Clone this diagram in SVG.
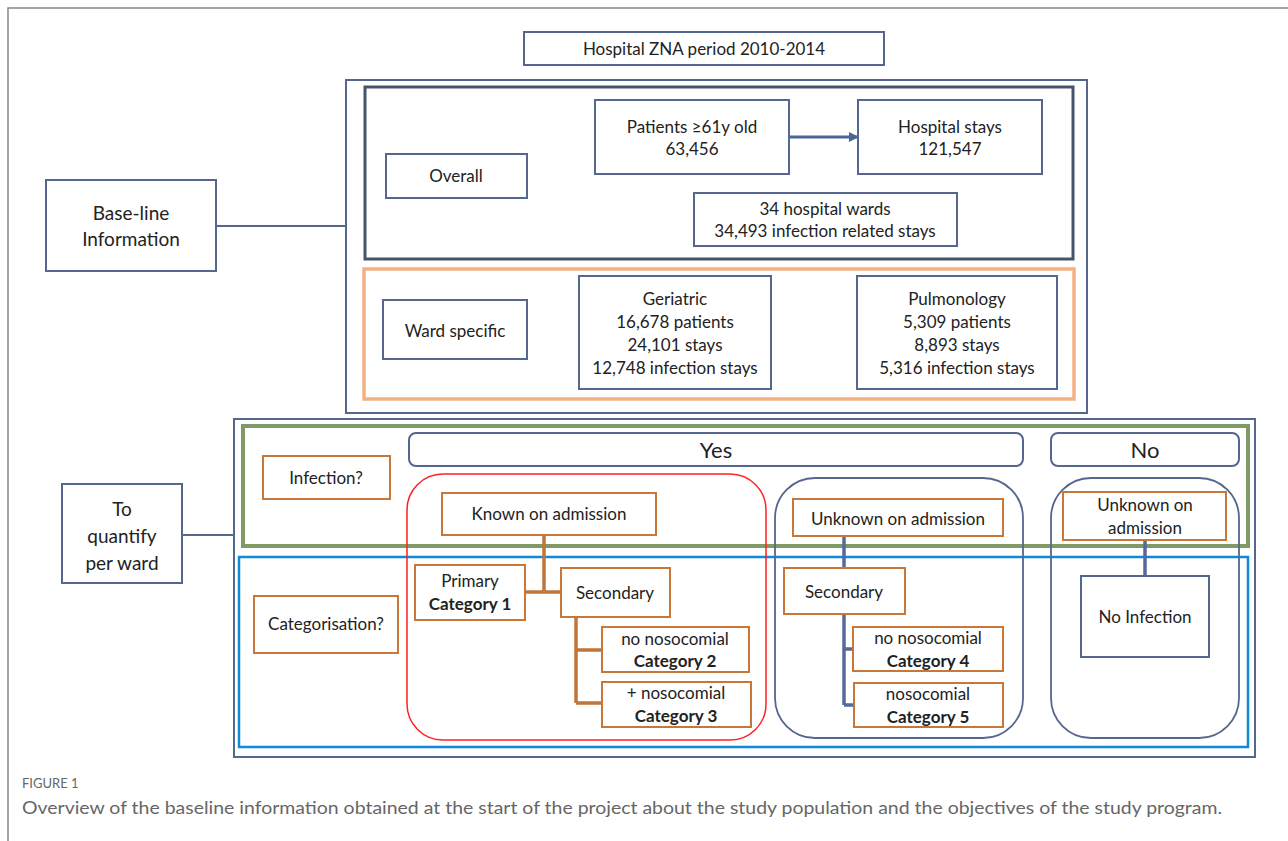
<svg xmlns="http://www.w3.org/2000/svg" width="1288" height="841" viewBox="0 0 1288 841">
<style>
text{font-family:Lato,"Open Sans","Liberation Sans",sans-serif;fill:#222;text-anchor:middle}
.t{font-size:17px}
.b{font-weight:bold}
.big{font-size:22px}
.nb{fill:#fff;stroke:#55668f;stroke-width:2}
.ob{fill:#fff;stroke:#c8763a;stroke-width:2}
.frame{fill:none}
.cb{stroke:#c0763a;stroke-width:3.5;fill:none}
.cg{stroke:#56699a;stroke-width:3.5;fill:none}
.cap{text-anchor:start;fill:#666}
</style>
<defs>
<marker id="ah" markerWidth="10" markerHeight="10" refX="8" refY="5" orient="auto" markerUnits="userSpaceOnUse"><path d="M0,0 L10,5 L0,10 z" fill="#4a6596"/></marker>
</defs>
<rect width="1288" height="841" fill="#fff"/>
<path d="M8,841 V8 H1288" fill="none" stroke="#888" stroke-width="1.5"/>

<g id="frames">
<rect x="346" y="80" width="741" height="333" class="frame" stroke="#55668f" stroke-width="2"/>
<rect x="365" y="87" width="708" height="172" class="frame" stroke="#44546a" stroke-width="3"/>
<rect x="364" y="269" width="710" height="130" class="frame" stroke="#f4b183" stroke-width="3.5"/>
<rect x="234" y="419" width="1021" height="338" class="frame" stroke="#55668f" stroke-width="2"/>
<rect x="243" y="426" width="1005" height="120" class="frame" stroke="#7f9a65" stroke-width="4"/>
<rect x="239" y="557" width="1009" height="190" class="frame" stroke="#0f8ad6" stroke-width="2.5"/>
<rect x="407" y="474" width="359" height="266" rx="36" class="frame" stroke="#ff2020" stroke-width="1.5"/>
<rect x="775" y="478" width="248" height="260" rx="40" class="frame" stroke="#55668f" stroke-width="1.8"/>
<rect x="1051" y="478" width="188" height="260" rx="40" class="frame" stroke="#55668f" stroke-width="1.8"/>
</g>

<g id="connectors">
<line x1="216" y1="226" x2="346" y2="226" stroke="#55668f" stroke-width="2"/>
<line x1="182" y1="535" x2="234" y2="535" stroke="#55668f" stroke-width="2"/>
<line x1="789" y1="137" x2="857" y2="137" stroke="#4a6596" stroke-width="3" marker-end="url(#ah)"/>
<path class="cb" d="M544,535 V592 M525,592 H561 M576,617 V703 M576,650 H602 M576,703 H602"/>
<path class="cg" d="M844,536 V568 M844,614 V705 M844,649 H853 M844,705 H854"/>
<path class="cg" d="M1145,540 V576"/>
</g>

<g id="title"><rect x="524" y="32" width="360" height="33" class="nb"/><text x="704" y="55" class="t">Hospital ZNA period 2010-2014</text></g>
<g id="baseline"><rect x="46" y="180" width="170" height="91" class="nb"/><text x="131" y="220" class="t" style="font-size:19px">Base-line</text><text x="131" y="246" class="t" style="font-size:19px">Information</text></g>
<g id="quantify"><rect x="62" y="484" width="120" height="99" class="nb"/><text x="122" y="516" class="t" style="font-size:19px">To</text><text x="122" y="543" class="t" style="font-size:19px">quantify</text><text x="122" y="570" class="t" style="font-size:19px">per ward</text></g>

<g id="overall"><rect x="386" y="154" width="141" height="44" class="nb"/><text x="456" y="182" class="t">Overall</text></g>
<g id="patients"><rect x="595" y="100" width="194" height="74" class="nb"/><text x="692" y="133" class="t">Patients ≥61y old</text><text x="692" y="155" class="t">63,456</text></g>
<g id="stays"><rect x="858" y="100" width="184" height="74" class="nb"/><text x="950" y="133" class="t">Hospital stays</text><text x="950" y="155" class="t">121,547</text></g>
<g id="wards"><rect x="694" y="193" width="263" height="53" class="nb"/><text x="825" y="215" class="t">34 hospital wards</text><text x="825" y="237" class="t">34,493 infection related  stays</text></g>
<g id="wardspecific"><rect x="383" y="300" width="144" height="59" class="nb"/><text x="455" y="337" class="t">Ward specific</text></g>
<g id="geriatric"><rect x="579" y="276" width="192" height="113" class="nb"/><text x="675" y="305" class="t">Geriatric</text><text x="675" y="328" class="t">16,678 patients</text><text x="675" y="351" class="t">24,101 stays</text><text x="675" y="374" class="t">12,748 infection stays</text></g>
<g id="pulmonology"><rect x="857" y="276" width="200" height="113" class="nb"/><text x="957" y="305" class="t">Pulmonology</text><text x="957" y="328" class="t">5,309 patients</text><text x="957" y="351" class="t">8,893 stays</text><text x="957" y="374" class="t">5,316 infection stays</text></g>

<g id="yes"><rect x="409" y="433" width="614" height="33" rx="7" class="nb"/><text x="716" y="458" class="big">Yes</text></g>
<g id="no"><rect x="1051" y="433" width="188" height="33" rx="7" class="nb"/><text x="1145" y="458" class="big">No</text></g>
<g id="infection"><rect x="263" y="456" width="127" height="43" class="ob"/><text x="326" y="484" class="t">Infection?</text></g>
<g id="categorisation"><rect x="254" y="596" width="144" height="57" class="ob"/><text x="326" y="630" class="t">Categorisation?</text></g>

<g id="known"><rect x="442" y="493" width="214" height="42" class="ob"/><text x="549" y="520" class="t">Known on admission</text></g>
<g id="primary"><rect x="415" y="565" width="110" height="55" class="ob"/><text x="470" y="587" class="t">Primary</text><text x="470" y="610" class="t b">Category 1</text></g>
<g id="secondary1"><rect x="561" y="568" width="109" height="49" class="ob"/><text x="615" y="599" class="t">Secondary</text></g>
<g id="cat2"><rect x="602" y="627" width="147" height="45" class="ob"/><text x="675" y="645" class="t">no nosocomial</text><text x="675" y="667" class="t b">Category 2</text></g>
<g id="cat3"><rect x="602" y="682" width="149" height="45" class="ob"/><text x="676" y="699" class="t">+ nosocomial</text><text x="676" y="722" class="t b">Category 3</text></g>

<g id="unknown"><rect x="793" y="499" width="210" height="37" class="ob"/><text x="898" y="525" class="t">Unknown on admission</text></g>
<g id="secondary2"><rect x="784" y="568" width="121" height="46" class="ob"/><text x="844" y="598" class="t">Secondary</text></g>
<g id="cat4"><rect x="853" y="627" width="150" height="44" class="ob"/><text x="928" y="644" class="t">no nosocomial</text><text x="928" y="667" class="t b">Category 4</text></g>
<g id="cat5"><rect x="854" y="683" width="149" height="44" class="ob"/><text x="928" y="700" class="t">nosocomial</text><text x="928" y="723" class="t b">Category 5</text></g>

<g id="unknown2"><rect x="1063" y="492" width="163" height="48" class="ob"/><text x="1145" y="511" class="t">Unknown on</text><text x="1145" y="534" class="t">admission</text></g>
<g id="noinfection"><rect x="1081" y="576" width="128" height="81" class="nb"/><text x="1145" y="623" class="t">No Infection</text></g>

<g id="caption">
<text x="22" y="788" class="cap" style="font-size:13px">FIGURE 1</text>
<text x="22" y="814" class="cap" style="font-size:17px" textLength="1200" lengthAdjust="spacingAndGlyphs">Overview of the baseline information obtained at the start of the project about the study population and the objectives of the study program.</text>
</g>
</svg>
